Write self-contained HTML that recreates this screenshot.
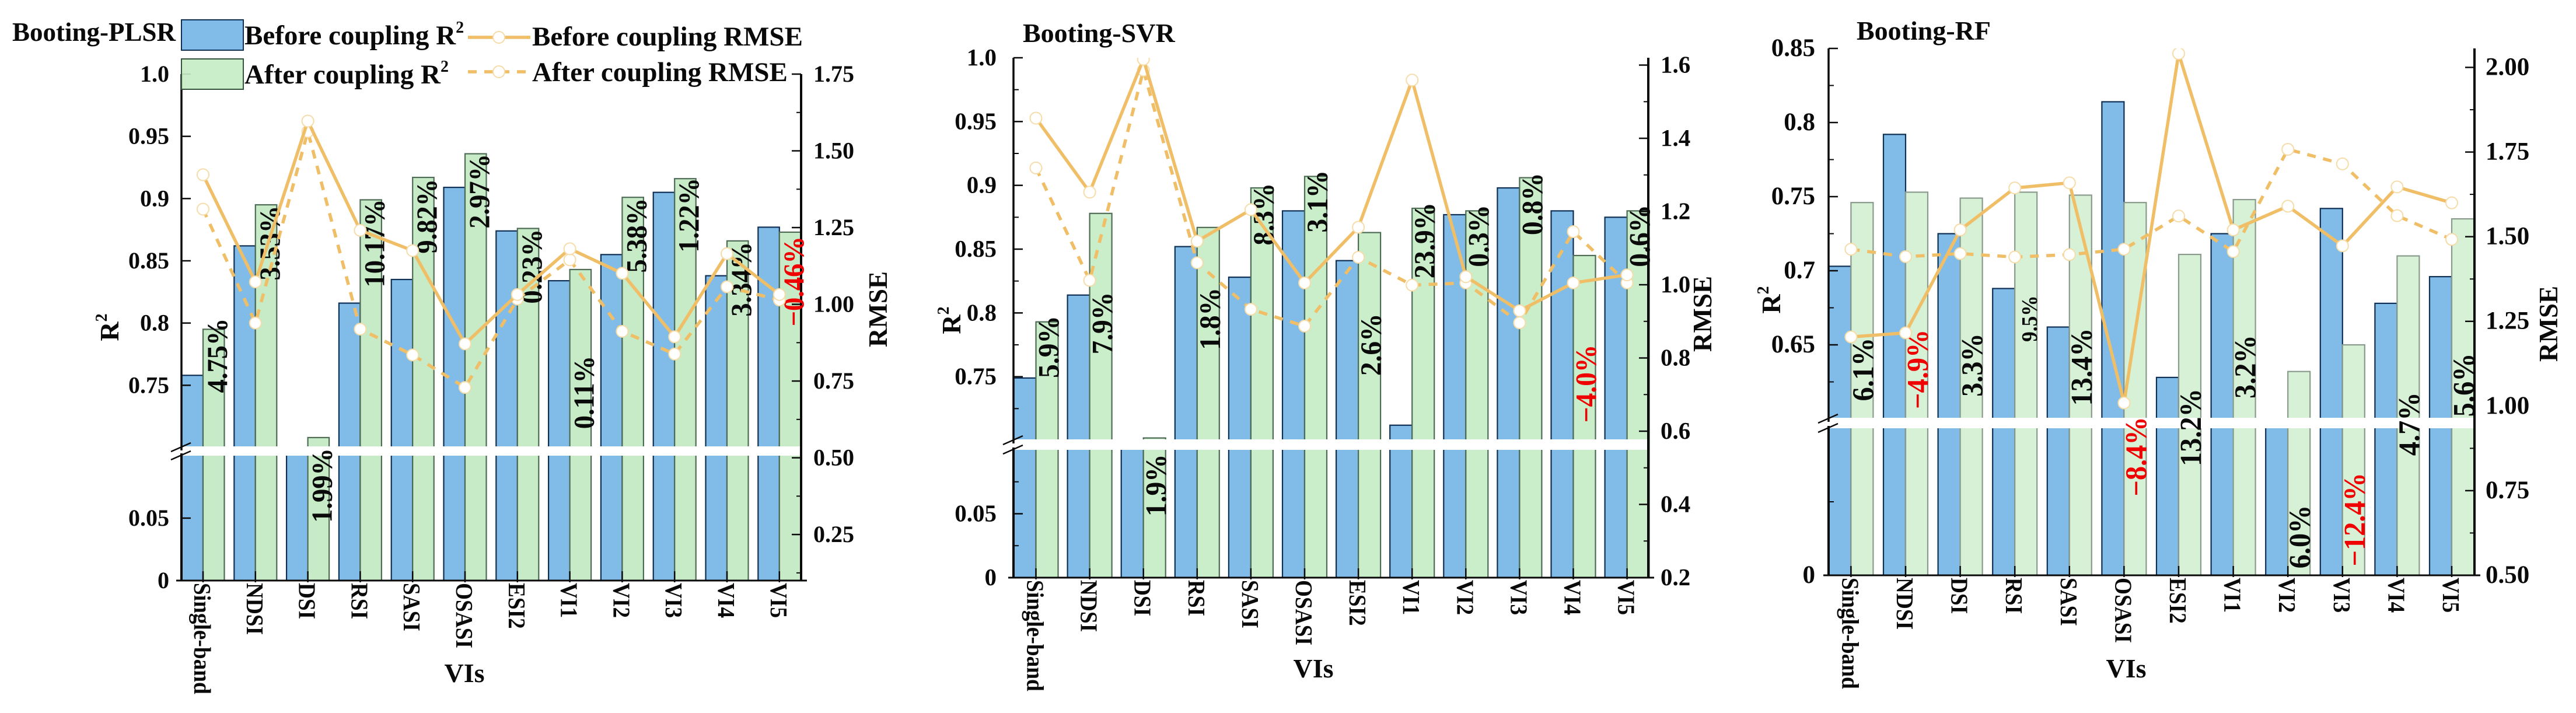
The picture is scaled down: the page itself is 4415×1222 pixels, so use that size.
<!DOCTYPE html>
<html lang="en">
<head>
<meta charset="utf-8">
<title>Booting VIs coupling comparison</title>
<style>
html,body{margin:0;padding:0;background:#fff;}
svg{display:block;}
text{font-family:"Liberation Serif",serif;font-weight:bold;fill:#0a0a0a;}
</style>
</head>
<body>
<svg id="chart" xmlns="http://www.w3.org/2000/svg" width="4415" height="1222" viewBox="0 0 4415 1222">
  <rect x="0" y="0" width="4415" height="1222" fill="#ffffff"/>
  <g id="panels"></g>
  <g id="legend">
    <rect x="311" y="34" width="106" height="52" fill="#81BCE9" stroke="#0f2f55" stroke-width="2"/>
    <rect x="311" y="101" width="106" height="52" fill="#C6EBC6" fill-opacity="0.92" stroke="#35523c" stroke-width="2"/>
    <text x="419" y="76" font-size="47">Before coupling R<tspan font-size="28" dy="-20">2</tspan></text>
    <text x="419" y="143" font-size="47">After coupling R<tspan font-size="28" dy="-20">2</tspan></text>
    <line x1="802" y1="64" x2="909" y2="64" stroke="#EFBE66" stroke-width="5.5"/>
    <circle cx="855" cy="64" r="10" fill="#FFFFFF" stroke="#F5DCA8" stroke-width="2"/>
    <line x1="802" y1="123" x2="909" y2="123" stroke="#EFBE66" stroke-width="5.5" stroke-dasharray="15 13"/>
    <circle cx="855" cy="123" r="10" fill="#FFFFFF" stroke="#F5DCA8" stroke-width="2"/>
    <text x="912" y="78" font-size="47">Before coupling RMSE</text>
    <text x="912" y="139" font-size="47">After coupling RMSE</text>
  </g>
</svg>
<script>
var categories = ['Single-band','NDSI','DSI','RSI','SASI','OSASI','ESI2','VI1','VI2','VI3','VI4','VI5'];

var plsrBeforeR2 = [0.758,0.862,0.690,0.816,0.835,0.909,0.874,0.834,0.855,0.905,0.838,0.877];
var plsrAfterR2 = [0.795,0.895,0.708,0.899,0.917,0.936,0.876,0.843,0.901,0.916,0.866,0.873];
var plsrBeforeRmse = [1.422,1.073,1.597,1.241,1.175,0.871,1.032,1.181,1.101,0.894,1.165,1.032];
var plsrAfterRmse = [1.310,0.939,1.563,0.919,0.835,0.729,1.017,1.145,0.912,0.838,1.057,1.014];
var plsrPctLabels = ['4.75%','3.53%','1.99%','10.17%','9.82%','2.97%','0.23%','0.11%','5.38%','1.22%','3.34%','\u22120.46%'];
var plsrPctAnchors = [0.7439,0.8343,0.0463,0.8287,0.8558,0.8759,0.8155,0.7149,0.8404,0.8567,0.8052,0.7973];
var plsrLeftTicks = ['0','0.05','0.75','0.8','0.85','0.9','0.95','1.0'];
var plsrLeftMinor = [];
var plsrRightTicks = ['0.25','0.50','0.75','1.00','1.25','1.50','1.75'];
var plsrRightMinor = [0.125,0.375,0.625,0.875,1.125,1.375,1.625];

var svrBeforeR2 = [0.749,0.814,0.690,0.852,0.828,0.880,0.841,0.712,0.877,0.898,0.880,0.875];
var svrAfterR2 = [0.793,0.878,0.702,0.867,0.898,0.907,0.863,0.882,0.880,0.906,0.845,0.880];
var svrBeforeRmse = [1.455,1.253,1.616,1.119,1.205,1.005,1.157,1.559,1.022,0.929,1.005,1.027];
var svrAfterRmse = [1.319,1.012,1.586,1.060,0.933,0.887,1.075,0.999,1.005,0.896,1.145,1.005];
var svrPctLabels = ['5.9%','7.9%','1.9%','1.8%','8.3%','3.1%','2.6%','23.9%','0.3%','0.8%','\u22124.0%','0.6%'];
var svrPctAnchors = [0.749,0.7675,0.0479,0.771,0.853,0.863,0.7507,0.827,0.836,0.861,0.714,0.836];
var svrLeftTicks = ['0','0.05','0.75','0.8','0.85','0.9','0.95','1.0'];
var svrLeftMinor = [0.025,0.075,0.725,0.775,0.825,0.875,0.925,0.975];
var svrRightTicks = ['0.2','0.4','0.6','0.8','1.0','1.2','1.4','1.6'];
var svrRightMinor = [0.3,0.5,0.7,0.9,1.1,1.3,1.5];

var rfBeforeR2 = [0.703,0.792,0.725,0.688,0.662,0.814,0.628,0.725,0.590,0.742,0.678,0.696];
var rfAfterR2 = [0.746,0.753,0.749,0.753,0.751,0.746,0.711,0.748,0.632,0.650,0.710,0.735];
var rfBeforeRmse = [1.204,1.216,1.520,1.644,1.659,1.009,2.041,1.520,1.590,1.473,1.647,1.600];
var rfAfterRmse = [1.463,1.441,1.450,1.440,1.447,1.463,1.561,1.456,1.758,1.715,1.562,1.492];
var rfPctLabels = ['6.1%','\u22124.9%','3.3%','9.5%','13.4%','\u22128.4%','13.2%','3.2%','6.0%','\u221212.4%','4.7%','5.6%'];
var rfPctAnchors = [0.612,0.6067,0.615,0.652,0.6089,0.0537,0.0742,0.6138,0.0046,0.0061,0.0813,0.6015];
var rfLeftTicks = ['0','0.65','0.7','0.75','0.8','0.85'];
var rfLeftMinor = [0.05,0.625,0.675,0.725,0.775,0.825];
var rfRightTicks = ['0.50','0.75','1.00','1.25','1.50','1.75','2.00'];
var rfRightMinor = [0.625,0.875,1.125,1.375,1.625,1.875];

var NS = 'http://www.w3.org/2000/svg';
var BLUE = '#81BCE9';
var ORANGE = '#EFBE66';
var RED = '#F00000';

function mk(tag, parent, attrs, txt) {
  var el = document.createElementNS(NS, tag);
  for (var k in attrs) { el.setAttribute(k, attrs[k]); }
  if (txt !== undefined) { el.textContent = txt; }
  parent.appendChild(el);
  return el;
}

function drawPanel(p) {
  var root = document.getElementById('panels');
  var g = mk('g', root, {});
  
  

  function x(i) { return p.firstX + p.stepX * i; }
  function yL(v) {
    if (v <= p.lowMax) { return p.base + (p.lowTopY - p.base) * v / p.lowMax; }
    if (v >= p.highMin) { return p.highBottomY + (p.topY - p.highBottomY) * (v - p.highMin) / (p.highMax - p.highMin); }
    return p.lowTopY + (p.highBottomY - p.lowTopY) * (v - p.lowMax) / (p.highMin - p.lowMax);
  }
  function yR(v) { return p.base + (p.topY - p.base) * (v - p.rMin) / (p.rMax - p.rMin); }

  var clipId = p.id + '-clip';
  var defs = mk('defs', g, {});
  var cp = mk('clipPath', defs, {id: clipId});
  mk('rect', cp, {x: p.left - 30, y: p.topY, width: p.right - p.left + 60, height: p.base - p.topY + 30});

  categories.forEach(function (c, i) {
    var b = mk('rect', g, {x: x(i) - p.bw, y: yL(p.before[i]), width: p.bw, height: p.base - yL(p.before[i]), fill: BLUE, stroke: '#0f2f55', 'stroke-width': 2.2});
    
    
    var a = mk('rect', g, {x: x(i), y: yL(p.after[i]), width: p.bw, height: p.base - yL(p.after[i]), fill: p.greenFill, stroke: p.greenStroke, 'stroke-width': 2.2});
    
    
  });

  var strip = mk('rect', g, {x: p.left - 2, y: p.highBottomY - 2, width: p.right - p.left, height: p.lowTopY - p.highBottomY + 2, fill: '#ffffff'});
  
  

  var leftTop = mk('line', g, {x1: p.left, x2: p.left, y1: p.topY, y2: p.highBottomY + 5, stroke: '#0a0a0a', 'stroke-width': 3.5});
  
  
  var leftLow = mk('line', g, {x1: p.left, x2: p.left, y1: p.lowTopY - 4, y2: p.base, stroke: '#0a0a0a', 'stroke-width': 4});
  
  
  var rightAxis = mk('line', g, {x1: p.right, x2: p.right, y1: p.topY, y2: p.base, stroke: '#0a0a0a', 'stroke-width': 4});
  
  
  var bottomAxis = mk('line', g, {x1: p.left - 9, x2: p.right + 10, y1: p.base, y2: p.base, stroke: '#0a0a0a', 'stroke-width': 3});
  
  

  [0, 1].forEach(function (k) {
    var cy = k === 0 ? p.highBottomY : p.lowTopY;
    var m = mk('line', g, {x1: p.left - 18, y1: cy + 7, x2: p.left + 16, y2: cy - 8, stroke: '#0a0a0a', 'stroke-width': 2.5});
    
    
  });

  p.leftTicks.forEach(function (t) {
    var v = parseFloat(t);
    var tk = mk('line', g, {x1: p.left, x2: p.left + 16, y1: yL(v), y2: yL(v), stroke: '#0a0a0a', 'stroke-width': 2.5});
    
    
    var lb = mk('text', g, {x: p.left - p.leftLabelGap, y: yL(v) + 13, 'text-anchor': 'end', 'font-size': p.tickFont}, t);
    
    
  });
  p.leftMinor.forEach(function (v) {
    var tk = mk('line', g, {x1: p.left, x2: p.left + 9, y1: yL(v), y2: yL(v), stroke: '#0a0a0a', 'stroke-width': 2});
    
    
  });
  p.rightTicks.forEach(function (t) {
    var v = parseFloat(t);
    var tk = mk('line', g, {x1: p.right - 16, x2: p.right, y1: yR(v), y2: yR(v), stroke: '#0a0a0a', 'stroke-width': 2.5});
    
    
    var lb = mk('text', g, {x: p.right + p.rightLabelGap, y: yR(v) + 13, 'font-size': p.tickFont}, t);
    
    
  });
  p.rightMinor.forEach(function (v) {
    var tk = mk('line', g, {x1: p.right - 8, x2: p.right, y1: yR(v), y2: yR(v), stroke: '#0a0a0a', 'stroke-width': 2});
    
    
  });

  categories.forEach(function (c, i) {
    var tk = mk('line', g, {x1: x(i), x2: x(i), y1: p.base - 16, y2: p.base + 3, stroke: '#0a0a0a', 'stroke-width': 2.5});
    
    
    var px = x(i) - 15;
    var py = p.base + 4;
    var lb = mk('text', g, {x: 0, y: 0, 'font-size': 41, transform: 'translate(' + px + ' ' + py + ') rotate(90) scale(0.91 1)'}, c);
    
    
  });

  p.pctLabels.forEach(function (t, i) {
    var px = x(i) + p.pctDx;
    var py = yL(p.pctAnchors[i]);
    var isNeg = t.charAt(0) === '\u2212';
    var small = t === '9.5%';
    var lb = mk('text', g, {x: 0, y: 0, 'font-size': small ? 38 : p.pctFont, transform: 'translate(' + px + ' ' + py + ') rotate(-90) scale(0.93 1)', style: isNeg ? 'fill:' + RED : ''}, t);
    
    
  });

  var lines = mk('g', g, {'clip-path': 'url(#' + clipId + ')'});
  
  

  [[p.afterRmse, true], [p.beforeRmse, false]].forEach(function (s) {
    var pts = s[0].map(function (v, i) { return x(i) + ',' + yR(v); }).join(' ');
    var attrs = {points: pts, fill: 'none', stroke: ORANGE, 'stroke-width': 5.5, 'stroke-linejoin': 'round'};
    if (s[1]) { attrs['stroke-dasharray'] = '15 13'; }
    var pl = mk('polyline', lines, attrs);
    
    
    s[0].forEach(function (v, i) {
      var c = mk('circle', lines, {cx: x(i), cy: yR(v), r: 10, fill: '#FFFFFF', stroke: '#F5DCA8', 'stroke-width': 2});
      
      
    });
  });

  var title = mk('text', g, {x: p.titleX, y: p.titleY, 'font-size': p.titleFont}, p.title);
  
  

  var vis = mk('text', g, {x: p.visX, y: p.visY, 'text-anchor': 'middle', 'font-size': 46}, 'VIs');
  
  

  var r2 = mk('text', g, {x: 0, y: 0, 'text-anchor': 'middle', 'font-size': 46, transform: 'translate(' + p.r2X + ' ' + p.r2Y + ') rotate(-90)'}, 'R');
  
  
  var sup = mk('tspan', r2, {'font-size': 28, dy: -20}, '2');
  
  

  var rm = mk('text', g, {x: 0, y: 0, 'text-anchor': 'middle', 'font-size': 45, transform: 'translate(' + p.rmseX + ' ' + p.rmseY + ') rotate(-90)'}, 'RMSE');
  
  
}

drawPanel({
  id: 'plsr', title: 'Booting-PLSR', titleX: 21, titleY: 70, titleFont: 45,
  left: 311, right: 1373, base: 995, topY: 127, firstX: 348, stepX: 89.8, bw: 36.5,
  lowMax: 0.1, lowTopY: 781, highMin: 0.7, highMax: 1.0, highBottomY: 767,
  rMin: 0.1, rMax: 1.75, tickFont: 40, leftLabelGap: 21, rightLabelGap: 21,
  before: plsrBeforeR2, after: plsrAfterR2, beforeRmse: plsrBeforeRmse, afterRmse: plsrAfterRmse,
  pctLabels: plsrPctLabels, pctAnchors: plsrPctAnchors, pctDx: 41, pctFont: 50,
  leftTicks: plsrLeftTicks, leftMinor: plsrLeftMinor, rightTicks: plsrRightTicks, rightMinor: plsrRightMinor,
  greenFill: '#C6EBC6', greenStroke: '#4e6b55', visX: 796, visY: 1169, r2X: 203, r2Y: 561, rmseX: 1520, rmseY: 530
});
drawPanel({
  id: 'svr', title: 'Booting-SVR', titleX: 1753, titleY: 72, titleFont: 46,
  left: 1737, right: 2825, base: 990, topY: 99, firstX: 1775.5, stepX: 92.1, bw: 38,
  lowMax: 0.1, lowTopY: 771, highMin: 0.7, highMax: 1.0, highBottomY: 755,
  rMin: 0.2, rMax: 1.62, tickFont: 41, leftLabelGap: 29, rightLabelGap: 21,
  before: svrBeforeR2, after: svrAfterR2, beforeRmse: svrBeforeRmse, afterRmse: svrAfterRmse,
  pctLabels: svrPctLabels, pctAnchors: svrPctAnchors, pctDx: 39, pctFont: 51,
  leftTicks: svrLeftTicks, leftMinor: svrLeftMinor, rightTicks: svrRightTicks, rightMinor: svrRightMinor,
  greenFill: '#CBEECA', greenStroke: '#4e6b55', visX: 2251, visY: 1161, r2X: 1646, r2Y: 549, rmseX: 2933, rmseY: 538
});
drawPanel({
  id: 'rf', title: 'Booting-RF', titleX: 3182, titleY: 68, titleFont: 46,
  left: 3134, right: 4241, base: 986, topY: 83, firstX: 3172.4, stepX: 93.6, bw: 38,
  lowMax: 0.1, lowTopY: 734, highMin: 0.6, highMax: 0.85, highBottomY: 718,
  rMin: 0.5, rMax: 2.056, tickFont: 43, leftLabelGap: 23, rightLabelGap: 19,
  before: rfBeforeR2, after: rfAfterR2, beforeRmse: rfBeforeRmse, afterRmse: rfAfterRmse,
  pctLabels: rfPctLabels, pctAnchors: rfPctAnchors, pctDx: 38, pctFont: 52,
  leftTicks: rfLeftTicks, leftMinor: rfLeftMinor, rightTicks: rfRightTicks, rightMinor: rfRightMinor,
  greenFill: '#D6F1D6', greenStroke: '#8a9a8c', visX: 3644, visY: 1161, r2X: 3051, r2Y: 514, rmseX: 4383, rmseY: 555
});
</script>
</body>
</html>
